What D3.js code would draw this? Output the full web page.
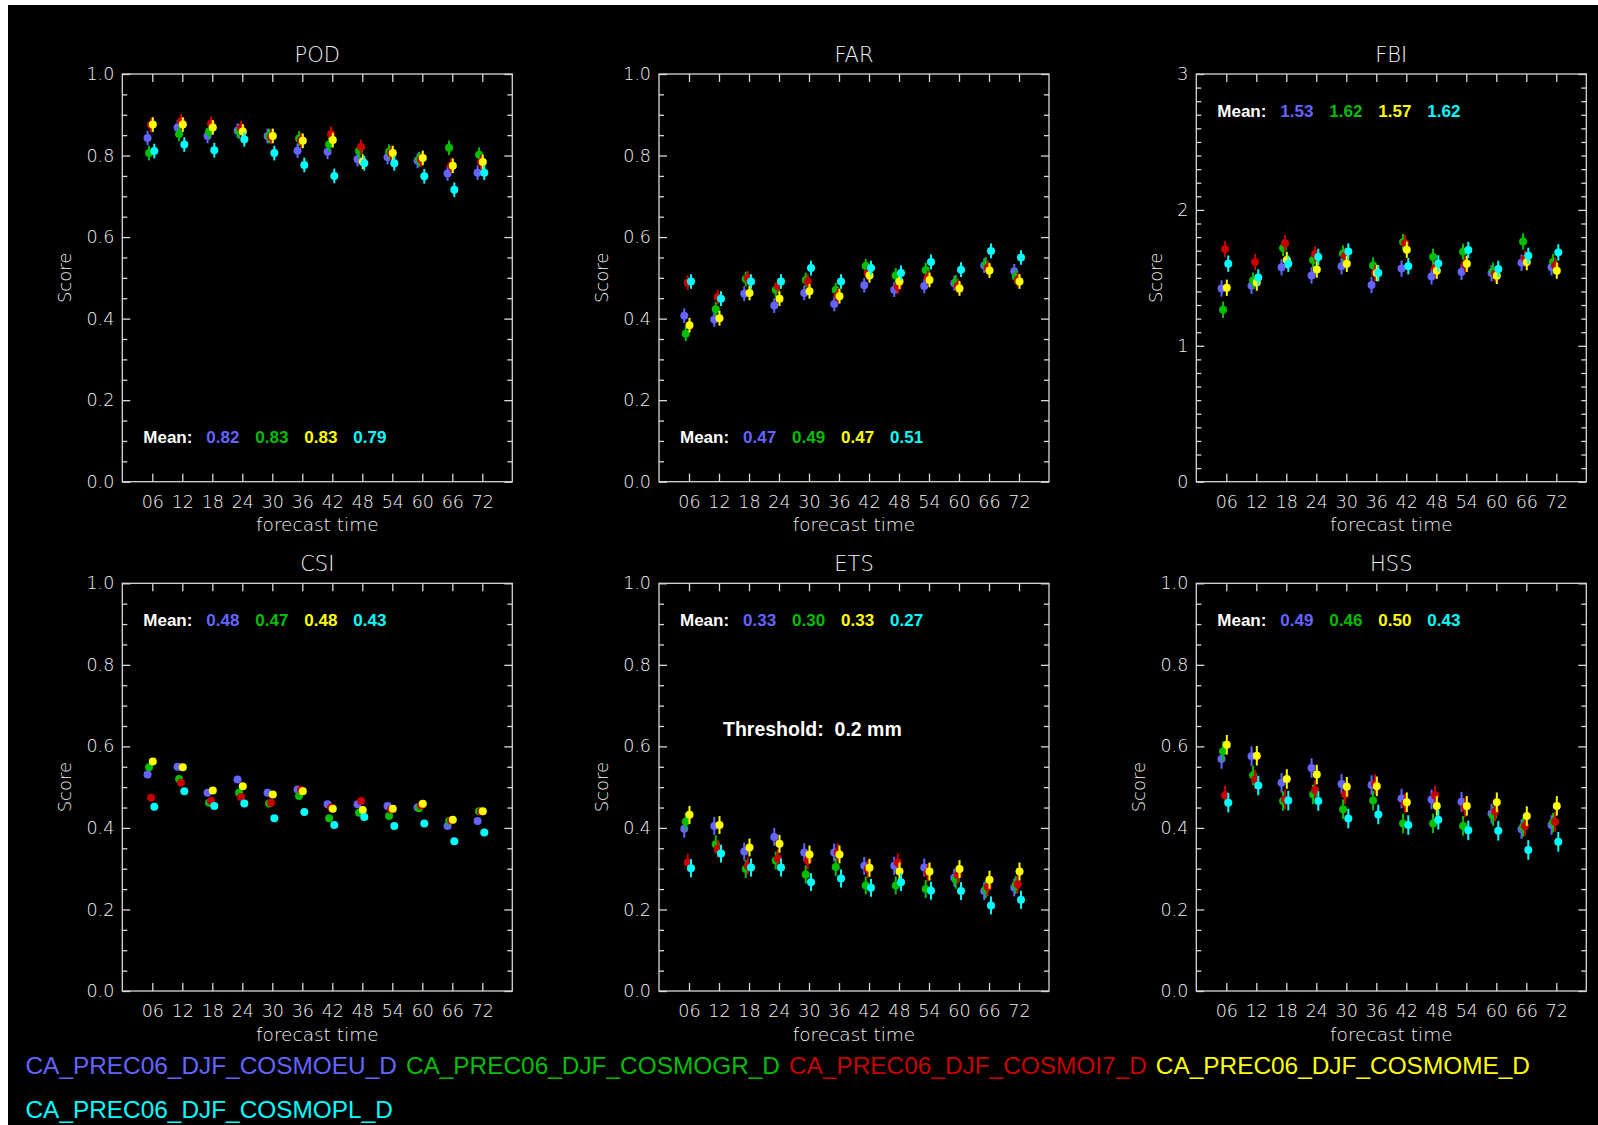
<!DOCTYPE html>
<html>
<head>
<meta charset="utf-8">
<script src="https://cdn.jsdelivr.net/npm/d3@7"></script>
<style>
  html, body { margin: 0; padding: 0; background: #fff; }
  svg { display: block; }
</style>
</head>
<body>
<div id="chart"></div>
<script>
// ---- data ----
const hours = [6, 12, 18, 24, 30, 36, 42, 48, 54, 60, 66, 72];
const hourLabels = ["06", "12", "18", "24", "30", "36", "42", "48", "54", "60", "66", "72"];
const models = ["CA_PREC06_DJF_COSMOEU_D", "CA_PREC06_DJF_COSMOGR_D", "CA_PREC06_DJF_COSMOI7_D",
                "CA_PREC06_DJF_COSMOME_D", "CA_PREC06_DJF_COSMOPL_D"];
const modelColors = ["#6464ff", "#00be00", "#c80000", "#ffff00", "#00ffff"];
// order of rows in every score array: EU, GR, I7, ME, PL
const podValues = [
  [0.843, 0.869, 0.848, 0.861, 0.848, 0.812, 0.809, 0.791, 0.796, 0.787, 0.756, 0.758],
  [0.806, 0.853, 0.859, 0.859, 0.848, 0.842, 0.827, 0.811, 0.809, 0.791, 0.819, 0.802],
  [0.875, 0.884, 0.878, 0.867, 0.846, 0.838, 0.853, 0.821, 0.806, 0.790, 0.775, 0.784],
  [0.876, 0.876, 0.869, 0.859, 0.848, 0.836, 0.838, 0.785, 0.806, 0.794, 0.775, 0.784],
  [0.811, 0.827, 0.813, 0.840, 0.806, 0.777, 0.750, 0.781, 0.781, 0.749, 0.716, 0.758]
];
const farValues = [
  [0.407, 0.398, 0.461, 0.432, 0.463, 0.436, 0.482, 0.471, 0.480, 0.487, 0.530, 0.516],
  [0.363, 0.423, 0.497, 0.470, 0.495, 0.470, 0.529, 0.506, 0.519, 0.489, 0.533, 0.503],
  [0.488, 0.453, 0.499, 0.480, 0.491, 0.457, 0.512, 0.478, 0.500, 0.480, 0.525, 0.495],
  [0.384, 0.401, 0.463, 0.449, 0.467, 0.455, 0.506, 0.491, 0.495, 0.474, 0.518, 0.491],
  [0.491, 0.449, 0.491, 0.491, 0.524, 0.491, 0.524, 0.512, 0.539, 0.520, 0.566, 0.550]
];
const fbiValues = [
  [1.422, 1.442, 1.578, 1.518, 1.586, 1.447, 1.568, 1.510, 1.543, 1.535, 1.611, 1.578],
  [1.265, 1.480, 1.720, 1.631, 1.679, 1.591, 1.763, 1.654, 1.692, 1.553, 1.768, 1.616],
  [1.712, 1.616, 1.755, 1.674, 1.662, 1.535, 1.755, 1.573, 1.600, 1.530, 1.640, 1.590],
  [1.427, 1.465, 1.631, 1.561, 1.604, 1.535, 1.707, 1.553, 1.604, 1.515, 1.616, 1.553],
  [1.604, 1.503, 1.604, 1.654, 1.694, 1.535, 1.586, 1.606, 1.705, 1.566, 1.662, 1.687]
];
const csiValues = [
  [0.531, 0.550, 0.486, 0.519, 0.486, 0.494, 0.458, 0.458, 0.454, 0.450, 0.405, 0.417],
  [0.549, 0.520, 0.462, 0.486, 0.460, 0.478, 0.424, 0.437, 0.429, 0.448, 0.417, 0.441],
  [0.474, 0.511, 0.466, 0.476, 0.462, 0.493, 0.450, 0.466, 0.445, 0.455, 0.418, 0.440],
  [0.563, 0.549, 0.492, 0.502, 0.482, 0.490, 0.447, 0.444, 0.447, 0.459, 0.420, 0.441],
  [0.452, 0.490, 0.454, 0.460, 0.424, 0.439, 0.407, 0.427, 0.405, 0.411, 0.367, 0.389]
];
const etsValues = [
  [0.398, 0.405, 0.342, 0.378, 0.340, 0.340, 0.307, 0.307, 0.303, 0.278, 0.245, 0.254],
  [0.415, 0.360, 0.299, 0.320, 0.286, 0.304, 0.259, 0.259, 0.250, 0.273, 0.250, 0.260],
  [0.315, 0.348, 0.307, 0.325, 0.320, 0.340, 0.299, 0.315, 0.290, 0.285, 0.255, 0.262],
  [0.432, 0.407, 0.352, 0.361, 0.335, 0.335, 0.302, 0.293, 0.293, 0.299, 0.273, 0.293],
  [0.301, 0.337, 0.303, 0.303, 0.267, 0.276, 0.253, 0.267, 0.246, 0.245, 0.210, 0.224]
];
const hssValues = [
  [0.569, 0.576, 0.511, 0.547, 0.508, 0.505, 0.472, 0.470, 0.464, 0.435, 0.397, 0.407],
  [0.588, 0.529, 0.466, 0.482, 0.446, 0.467, 0.411, 0.411, 0.405, 0.429, 0.402, 0.413],
  [0.480, 0.519, 0.470, 0.493, 0.482, 0.508, 0.460, 0.480, 0.450, 0.440, 0.405, 0.415],
  [0.604, 0.577, 0.520, 0.531, 0.501, 0.502, 0.463, 0.454, 0.454, 0.463, 0.429, 0.454],
  [0.462, 0.504, 0.467, 0.466, 0.423, 0.433, 0.407, 0.420, 0.394, 0.393, 0.346, 0.366]
];
// half length of the error bars, one per panel
const errorHalf = [0.018, 0.018, 0.06, 0, 0.022, 0.024];
// printed means (EU, GR, ME, PL)
const podMeans = ["0.82", "0.83", "0.83", "0.79"];
const farMeans = ["0.47", "0.49", "0.47", "0.51"];
const fbiMeans = ["1.53", "1.62", "1.57", "1.62"];
const csiMeans = ["0.48", "0.47", "0.48", "0.43"];
const etsMeans = ["0.33", "0.30", "0.33", "0.27"];
const hssMeans = ["0.49", "0.46", "0.50", "0.43"];
const meanColorIdx = [0, 1, 3, 4];
const thresholdText = "Threshold:  0.2 mm";

// ---- layout ----
const W = 1598, H = 1125;
const colLeft = [122.3, 659, 1196.3], rowTop = [74, 583.3];
const panelW = 390, panelH = 407.7;
const xOffsetHours = [-0.95, -0.65, -0.25, 0.1, 0.4];   // small shift per model
const lineCol = "#d8d8d8", textCol = "#f2f2f2";
const thinFont = "'DejaVu Sans', sans-serif";
const boldFont = "'Liberation Sans', Arial, sans-serif";

const panels = [
  {title: "POD", values: podValues, means: podMeans, yMax: 1, minor: 0.05, meanTop: false},
  {title: "FAR", values: farValues, means: farMeans, yMax: 1, minor: 0.05, meanTop: false},
  {title: "FBI", values: fbiValues, means: fbiMeans, yMax: 3, minor: 0.1, meanTop: true},
  {title: "CSI", values: csiValues, means: csiMeans, yMax: 1, minor: 0.05, meanTop: true},
  {title: "ETS", values: etsValues, means: etsMeans, yMax: 1, minor: 0.05, meanTop: true, threshold: true},
  {title: "HSS", values: hssValues, means: hssMeans, yMax: 1, minor: 0.05, meanTop: true}
];

const svg = d3.select("#chart").append("svg")
    .attr("width", W)
    .attr("height", H);

// black canvas (thin white margin top and left, like the original)
svg.append("rect")
    .attr("x", 8).attr("y", 5)
    .attr("width", W - 8).attr("height", H - 5)
    .attr("fill", "#000");

panels.forEach((p, i) => {
    let g = svg.append("g")
        .attr("transform", `translate(${colLeft[i % 3]}, ${rowTop[Math.floor(i / 3)]})`);

    let x = d3.scaleLinear().domain([0, 78]).range([0, panelW]);
    let y = d3.scaleLinear().domain([0, p.yMax]).range([panelH, 0]);

    let major = p.yMax === 1 ? d3.range(0, 1.0001, 0.2) : d3.range(0, p.yMax + 0.001, 1);
    let minor = d3.range(0, p.yMax + 1e-6, p.minor)
        .filter(v => !major.some(m => Math.abs(m - v) < 1e-6));
    let fmt = p.yMax === 1 ? d3.format(".1f") : d3.format("d");

    // axes, ticks pointing inwards
    let axes = [
        {ax: d3.axisBottom(x).tickValues(hours).tickSize(-8).tickPadding(14).tickFormat((d, k) => hourLabels[k]), cls: "xlab", t: `translate(0,${panelH})`},
        {ax: d3.axisTop(x).tickValues(hours).tickSize(-8).tickFormat(""), t: "translate(0,0)"},
        {ax: d3.axisLeft(y).tickValues(major).tickSize(-8).tickPadding(8).tickFormat(fmt), cls: "ylab", t: "translate(0,0)"},
        {ax: d3.axisLeft(y).tickValues(minor).tickSize(-5).tickFormat(""), t: "translate(0,0)"},
        {ax: d3.axisRight(y).tickValues(major).tickSize(-8).tickFormat(""), t: `translate(${panelW},0)`},
        {ax: d3.axisRight(y).tickValues(minor).tickSize(-5).tickFormat(""), t: `translate(${panelW},0)`}
    ];
    axes.forEach(a => {
        let ag = g.append("g")
            .attr("class", a.cls || "")
            .attr("transform", a.t)
            .call(a.ax);
        ag.select(".domain").remove();
        ag.selectAll("line").attr("stroke", lineCol).attr("stroke-width", 1.3);
        ag.selectAll("text")
            .attr("fill", textCol)
            .attr("font-family", thinFont)
            .attr("font-weight", 200)
            .attr("font-size", 17.5);
    });

    // box
    g.append("rect")
        .attr("width", panelW).attr("height", panelH)
        .attr("fill", "none")
        .attr("stroke", lineCol)
        .attr("stroke-width", 1.3);

    // title
    g.append("text")
        .attr("x", panelW / 2).attr("y", -20)
        .attr("dy", "0.36em")
        .attr("text-anchor", "middle")
        .attr("fill", textCol)
        .attr("font-family", thinFont)
        .attr("font-weight", 200)
        .attr("font-size", 21)
        .text(p.title);

    g.append("text")
        .attr("x", panelW / 2).attr("y", panelH + 43)
        .attr("dy", "0.36em")
        .attr("text-anchor", "middle")
        .attr("fill", textCol)
        .attr("font-family", thinFont)
        .attr("font-weight", 200)
        .attr("font-size", 18.5)
        .text("forecast time");

    // y title, placed left of the widest tick label
    let maxLab = d3.max(g.selectAll(".ylab text").nodes(), n => n.getComputedTextLength());
    let sx = -(8 + maxLab + 22);
    g.append("text")
        .attr("transform", `translate(${sx}, ${panelH / 2}) rotate(-90)`)
        .attr("dy", "0.36em")
        .attr("text-anchor", "middle")
        .attr("fill", textCol)
        .attr("font-family", thinFont)
        .attr("font-weight", 200)
        .attr("font-size", 18)
        .text("Score");

    // error bars + markers, drawn model after model
    p.values.forEach((series, m) => {
        let sg = g.append("g").attr("fill", modelColors[m]).attr("stroke", modelColors[m]);
        let e = errorHalf[i];
        if (e > 0) {
            sg.selectAll("line")
                .data(series)
                .join("line")
                .attr("x1", (d, k) => x(hours[k] + xOffsetHours[m]))
                .attr("x2", (d, k) => x(hours[k] + xOffsetHours[m]))
                .attr("y1", d => y(d - e))
                .attr("y2", d => y(d + e))
                .attr("stroke-width", 2);
        }
        sg.selectAll("circle")
            .data(series)
            .join("circle")
            .attr("cx", (d, k) => x(hours[k] + xOffsetHours[m]))
            .attr("cy", d => y(d))
            .attr("r", 4)
            .attr("stroke", "none");
    });

    // means
    let my = y((p.meanTop ? 0.91 : 0.11) * p.yMax);
    let mg = g.append("g")
        .attr("font-family", boldFont)
        .attr("font-weight", "bold")
        .attr("font-size", 17);
    mg.append("text")
        .attr("x", 21).attr("y", my).attr("dy", "0.36em")
        .attr("fill", "#fff")
        .text("Mean:");
    mg.selectAll("text.mv")
        .data(p.means)
        .join("text")
        .attr("class", "mv")
        .attr("x", (d, k) => 84 + k * 49)
        .attr("y", my).attr("dy", "0.36em")
        .attr("fill", (d, k) => modelColors[meanColorIdx[k]])
        .text(d => d);

    if (p.threshold) {
        g.append("text")
            .attr("x", 64).attr("y", y(0.643)).attr("dy", "0.36em")
            .attr("fill", "#fff")
            .attr("font-family", boldFont)
            .attr("font-weight", "bold")
            .attr("font-size", 19.5)
            .attr("xml:space", "preserve")
            .style("white-space", "pre")
            .text(thresholdText);
    }
});

// legend, flowing left to right and wrapping
let lx = 25.5, ly = 1065;
models.forEach((name, m) => {
    let t = svg.append("text")
        .attr("x", lx).attr("y", ly).attr("dy", "0.36em")
        .attr("fill", modelColors[m])
        .attr("font-family", boldFont)
        .attr("font-size", 24.4)
        .text(name);
    let w = t.node().getComputedTextLength();
    if (lx + w > W - 20) {
        lx = 25.5; ly += 44;
        t.attr("x", lx).attr("y", ly);
    }
    lx += w + 9;
});
</script>
</body>
</html>
